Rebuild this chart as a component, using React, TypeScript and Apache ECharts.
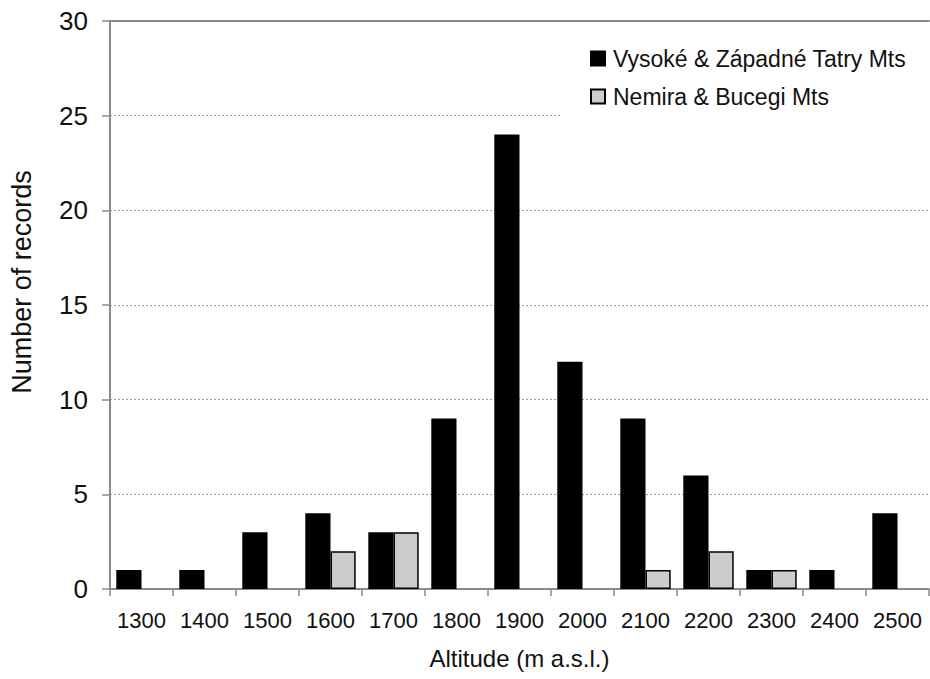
import React, { useEffect, useRef } from "react";
import * as echarts from "echarts";

const categories = ["1300", "1400", "1500", "1600", "1700", "1800", "1900", "2000", "2100", "2200", "2300", "2400", "2500"];
const tatryValues: (number | null)[] = [1, 1, 3, 4, 3, 9, 24, 12, 9, 6, 1, 1, 4];
const nemiraValues: (number | null)[] = [null, null, null, 2, 3, null, null, null, 1, 2, 1, null, null];
const seriesNames = ["Vysoké & Západné Tatry Mts", "Nemira & Bucegi Mts"];
const yTicks = { min: 0, max: 30, interval: 5 };

const FONT = '"Liberation Sans", Arial, Helvetica, sans-serif';

export default function App() {
  const ref = useRef<HTMLDivElement>(null);
  useEffect(() => {
    if (!ref.current) return;
    const chart = echarts.init(ref.current, null, { renderer: "svg" });
    const axisGray = "#8a8a8a";
    chart.setOption({
      animation: false,
      backgroundColor: "#ffffff",
      textStyle: { fontFamily: FONT, color: "#111" },
      grid: { left: 110, right: 1, top: 21, bottom: 90, containLabel: false },
      legend: {
        orient: "vertical",
        left: 562,
        top: 22,
        padding: [25, 40, 11, 28],
        backgroundColor: "#ffffff",
        icon: "rect",
        itemWidth: 14,
        itemHeight: 14,
        itemGap: 15,
        textStyle: { fontFamily: FONT, fontSize: 23, color: "#111", padding: [0, 0, 0, 3] },
        data: seriesNames,
      },
      xAxis: [
        {
          type: "category",
          data: categories,
          position: "bottom",
          axisLine: { lineStyle: { color: axisGray, width: 2 } },
          axisTick: { show: true, length: 7, lineStyle: { color: axisGray, width: 1.5 } },
          axisLabel: { fontFamily: FONT, fontSize: 22, color: "#111", margin: 20, interval: 0 },
          name: "Altitude (m a.s.l.)",
          nameLocation: "middle",
          nameGap: 57,
          nameTextStyle: { fontFamily: FONT, fontSize: 24, color: "#111" },
        },
        {
          type: "category",
          data: categories,
          position: "top",
          axisLine: { show: true, lineStyle: { color: axisGray, width: 2 } },
          axisTick: { show: false },
          axisLabel: { show: false },
        },
      ],
      yAxis: {
        type: "value",
        min: yTicks.min,
        max: yTicks.max,
        interval: yTicks.interval,
        axisLine: { show: true, lineStyle: { color: axisGray, width: 2 } },
        axisTick: { show: true, length: 8, lineStyle: { color: axisGray, width: 1.5 } },
        axisLabel: { fontFamily: FONT, fontSize: 26, color: "#111", margin: 22 },
        splitLine: { show: true, lineStyle: { color: "#9a9a9a", width: 1, type: [2, 2] } },
        name: "Number of records",
        nameLocation: "middle",
        nameGap: 75,
        nameTextStyle: { fontFamily: FONT, fontSize: 27, color: "#111", padding: [0, 0, 0, 46] },
      },
      series: [
        {
          name: seriesNames[0],
          type: "bar",
          data: tatryValues,
          barGap: "0%",
          barCategoryGap: "20%",
          itemStyle: { color: "#000000", borderColor: "#000000", borderWidth: 1.5 },
        },
        {
          name: seriesNames[1],
          type: "bar",
          data: nemiraValues,
          barGap: "0%",
          barCategoryGap: "20%",
          itemStyle: { color: "#cccccc", borderColor: "#000000", borderWidth: 1.5 },
        },
      ],
    });
    return () => chart.dispose();
  }, []);
  return <div ref={ref} style={{ width: 930, height: 679, position: "absolute", left: 0, top: 0 }} />;
}
